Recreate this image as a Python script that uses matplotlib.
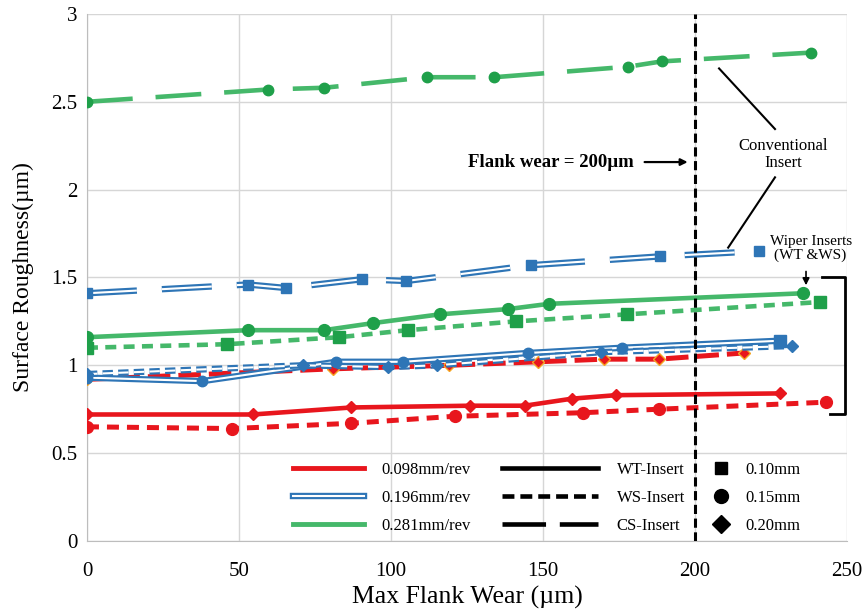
import matplotlib
matplotlib.use('Agg')
import matplotlib.pyplot as plt
import matplotlib.patheffects as pe
from matplotlib.lines import Line2D

plt.rcParams['font.family'] = ['Liberation Serif', 'DejaVu Serif']

# data: (flank wear um, Ra um)
# 0.098 mm/rev
wt098_x = [0, 54.5, 87, 126, 144, 159.5, 174, 228]
wt098_y = [0.72, 0.72, 0.76, 0.77, 0.77, 0.81, 0.83, 0.84]
ws098a_x = [0, 47.7, 87, 121, 163, 188, 243]
ws098a_y = [0.65, 0.64, 0.67, 0.71, 0.73, 0.75, 0.79]
ws098b_x = [0, 81, 119, 148.5, 170, 188, 216]
ws098b_y = [0.92, 0.98, 1.0, 1.02, 1.035, 1.035, 1.07]
# 0.196 mm/rev
wt196_x = [0, 38, 82, 104, 145, 176, 228]
wt196_y = [0.93, 0.91, 1.02, 1.02, 1.07, 1.10, 1.14]
ws196_x = [0, 71, 99, 115, 169, 232]
ws196_y = [0.95, 1.00, 0.99, 1.00, 1.075, 1.11]
cs196_x = [0, 53, 65.5, 90.5, 105, 146, 188.5, 221]
cs196_y = [1.41, 1.46, 1.44, 1.49, 1.48, 1.57, 1.62, 1.65]
# 0.281 mm/rev
wt281_x = [0, 53, 78, 94, 116, 138.5, 152, 235.5]
wt281_y = [1.16, 1.20, 1.20, 1.24, 1.29, 1.32, 1.35, 1.41]
ws281_x = [0, 46, 83, 105.5, 141, 177.5, 241]
ws281_y = [1.10, 1.12, 1.16, 1.20, 1.25, 1.29, 1.36]
cs281_x = [0, 59.5, 78, 112, 134, 178, 189, 238]
cs281_y = [2.50, 2.57, 2.58, 2.64, 2.64, 2.70, 2.73, 2.78]

feed_labels = ['0.098mm/rev', '0.196mm/rev', '0.281mm/rev']
insert_labels = ['WT-Insert', 'WS-Insert', 'CS-Insert']
doc_labels = ['0.10mm', '0.15mm', '0.20mm']

red = '#E8161D'
blue = '#2E75B6'
green_l = '#45B86A'
green_m = '#1FA04A'

WS = (0, (2.4, 1.6))
CS = (0, (10, 5))

fig = plt.figure(figsize=(8.67, 6.13), dpi=100)
ax = fig.add_axes([0.1003, 0.1175, 0.8767, 0.8597])

def dbl(lw=4.6):
    return [pe.Stroke(linewidth=lw, foreground=blue), pe.Normal()]

# red
ax.plot(wt098_x, wt098_y, color=red, lw=3.3, marker='D', ms=6, zorder=3)
ax.plot(ws098a_x, ws098a_y, color=red, lw=3.6, ls=WS, marker='o', ms=8.5, zorder=3)
ax.plot(ws098b_x, ws098b_y, color=red, lw=3.6, ls=(0, (4.5, 1.6)), marker='D', ms=6,
        mec='#F5A623', mew=1, zorder=3)
# blue (double line)
l, = ax.plot(wt196_x, wt196_y, color='white', lw=1.5, zorder=3)
l.set_path_effects(dbl())
ax.plot(wt196_x, wt196_y, ls='none', marker='o', ms=7.5, color=blue, markevery=slice(0, -1), zorder=4)
ax.plot(wt196_x, wt196_y, ls='none', marker='s', ms=8, color=blue, markevery=[-1], zorder=4)
l, = ax.plot(ws196_x, ws196_y, color='white', lw=1.5, ls=(0, (5, 2.5)), zorder=3)
l.set_path_effects(dbl())
ax.plot(ws196_x, ws196_y, ls='none', marker='D', ms=6, color=blue, zorder=4)
l, = ax.plot(cs196_x, cs196_y, color='white', lw=1.5, ls=(0, (24, 12)), zorder=3)
l.set_path_effects(dbl())
ax.plot(cs196_x, cs196_y, ls='none', marker='s', ms=7, color=blue, zorder=4)
# green
ax.plot(wt281_x, wt281_y, color=green_l, lw=3.3, zorder=3)
ax.plot(wt281_x, wt281_y, ls='none', marker='o', ms=8.5, color=green_m, zorder=4)
ax.plot(ws281_x, ws281_y, color=green_l, lw=3.3, ls=WS, zorder=3)
ax.plot(ws281_x, ws281_y, ls='none', marker='s', ms=8, color=green_m, zorder=4)
ax.plot(cs281_x, cs281_y, color=green_l, lw=3.3, ls=CS, zorder=3)
ax.plot(cs281_x, cs281_y, ls='none', marker='o', ms=7.5, color=green_m, zorder=4)

# 200 um line
ax.axvline(200, color='black', lw=2.2, ls=(0, (3, 1.5)), zorder=5)

ax.set_xlim(0, 250)
ax.set_ylim(0, 3)
ax.set_xticks([0, 50, 100, 150, 200, 250])
ax.set_yticks([0, 0.5, 1, 1.5, 2, 2.5, 3])
ax.set_yticklabels(['0', '0.5', '1', '1.5', '2', '2.5', '3'])
ax.grid(True, color='#D6D6D6', lw=1)
ax.set_axisbelow(True)
for s in ax.spines.values():
    s.set_color('#BDBDBD')
ax.spines['top'].set_visible(False)
ax.spines['right'].set_visible(False)
ax.tick_params(length=0, labelsize=15)
ax.tick_params(axis='x', pad=15)
ax.tick_params(axis='y', pad=7)
ax.set_xlabel('Max Flank Wear (µm)', fontsize=18.5, labelpad=4)
ax.set_ylabel('Surface Roughness(µm)', fontsize=17, labelpad=12)

# annotations
ax.annotate('', xy=(198.5, 2.157), xytext=(182.5, 2.157),
            arrowprops=dict(arrowstyle='-|>', color='black', lw=1.6))
ax.text(180, 2.157, 'Flank wear = 200µm', fontsize=13.5, fontweight='bold',
        ha='right', va='center')
ax.text(229, 2.2, 'Conventional\nInsert', fontsize=12, ha='center', va='center',
        linespacing=1.05)
ax.plot([207.9, 226.3], [2.69, 2.345], color='black', lw=1.5)
ax.plot([226.3, 210.9], [2.07, 1.67], color='black', lw=1.5)
ax.text(238, 1.665, 'Wiper Inserts\n(WT &WS)', fontsize=11, ha='center', va='center',
        linespacing=1.05)
ax.annotate('', xy=(236.5, 1.44), xytext=(236.5, 1.55),
            arrowprops=dict(arrowstyle='-|>', color='black', lw=1.2))
ax.plot([241.8, 249.3, 249.3, 244.3], [1.50, 1.50, 0.72, 0.72], color='black', lw=2,
        clip_on=False)

# legends
h1 = [Line2D([], [], color=red, lw=3.5),
      Line2D([], [], color='white', lw=1.5, path_effects=dbl()),
      Line2D([], [], color=green_l, lw=3.5)]
h2 = [Line2D([], [], color='black', lw=3.3),
      Line2D([], [], color='black', lw=3.3, ls=(0, (2.6, 1.3))),
      Line2D([], [], color='black', lw=3.3, ls=(0, (9.5, 3)))]
h3 = [Line2D([], [], color='black', ls='none', marker='s', ms=8),
      Line2D([], [], color='black', ls='none', marker='o', ms=10),
      Line2D([], [], color='black', ls='none', marker='D', ms=9)]
kw = dict(frameon=False, fontsize=12, labelspacing=0.72, borderaxespad=0)
lg1 = ax.legend(h1, feed_labels, loc='upper left', bbox_to_anchor=(0.262, 0.163),
                handlelength=4.3, handletextpad=1.0, **kw)
ax.add_artist(lg1)
lg2 = ax.legend(h2, insert_labels, loc='upper left', bbox_to_anchor=(0.537, 0.163),
                handlelength=5.8, handletextpad=1.1, **kw)
ax.add_artist(lg2)
ax.legend(h3, doc_labels, loc='upper left', bbox_to_anchor=(0.814, 0.163),
          handlelength=1.0, handletextpad=1.0, **kw)

fig.savefig('out.png', dpi=100)
